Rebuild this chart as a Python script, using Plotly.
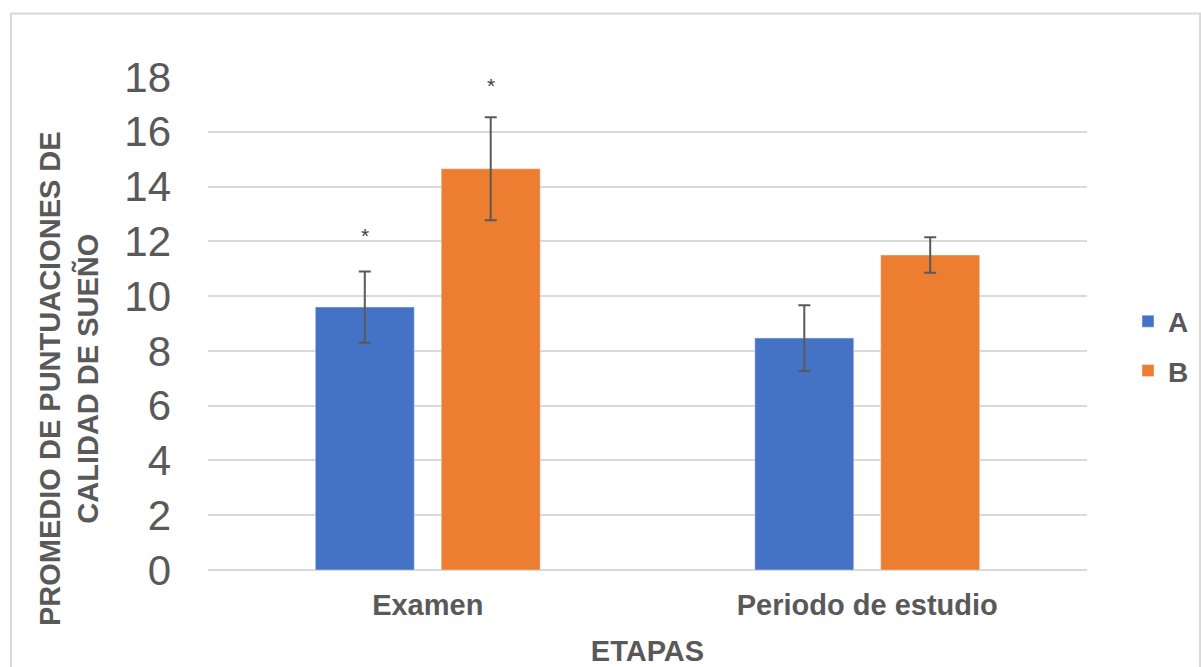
import plotly.graph_objects as go

# Data
etapas = ["Examen", "Periodo de estudio"]
grupo_a = [9.6, 8.47]
grupo_b = [14.65, 11.5]
error_a = [1.3, 1.2]
error_b = [1.88, 0.65]
# significance markers: label, series, height
sig_labels = ["*", "*"]
sig_series = ["A", "B"]
sig_heights = [12.2, 17.7]
y_ticks = [0, 2, 4, 6, 8, 10, 12, 14, 16, 18]

GRAY = "#595959"
GRID = "#d9d9d9"
FONT = "Liberation Sans, Arial, sans-serif"

W, H = 1201, 667
L, R, T, B = 208, 114, 77, 97
pw, ph = W - L - R, H - T - B

BARGAP = 0.427
GROUPGAP = 0.214

fig = go.Figure()
fig.add_trace(go.Bar(
    name="A", x=etapas, y=grupo_a, marker_color="#4472C4", legendgroup="A",
    error_y=dict(type="data", array=error_a, color=GRAY, thickness=2, width=6),
))
fig.add_trace(go.Bar(
    name="B", x=etapas, y=grupo_b, marker_color="#ED7D31", legendgroup="B",
    error_y=dict(type="data", array=error_b, color=GRAY, thickness=2, width=6),
))

# asterisks above the first category's bars
slot = (1 - BARGAP) / 2
for lab, s, hgt in zip(sig_labels, sig_series, sig_heights):
    off = -slot / 2 if s == "A" else slot / 2
    fig.add_annotation(x=0 + off, y=hgt, xref="x", yref="y", text=lab,
                       showarrow=False, font=dict(family=FONT, size=21, color="#404040"))

# y-axis title
fig.add_annotation(
    x=(69 - L) / pw, y=(570 - 379) / ph, xref="paper", yref="paper",
    xanchor="center", yanchor="middle",
    text="<b>PROMEDIO DE PUNTUACIONES DE<br>CALIDAD DE SUEÑO</b>",
    textangle=-90, showarrow=False,
    font=dict(family=FONT, size=29, color=GRAY),
)

# outer frame
fig.add_shape(type="rect", xref="paper", yref="paper",
              x0=(11 - L) / pw, x1=(1200 - L) / pw,
              y0=(570 - 700) / ph, y1=(570 - 13.5) / ph,
              line=dict(color=GRID, width=2), fillcolor="rgba(0,0,0,0)", layer="below")

fig.update_layout(
    width=W, height=H,
    margin=dict(l=L, r=R, t=T, b=B, autoexpand=False),
    paper_bgcolor="white", plot_bgcolor="white",
    barmode="group", bargap=BARGAP, bargroupgap=GROUPGAP,
    font=dict(family=FONT, color=GRAY),
    showlegend=True,
    legend=dict(x=(1128 - L) / pw, y=(570 - 346) / ph, xanchor="left", yanchor="middle",
                font=dict(family=FONT, size=28, color=GRAY, weight="bold"),
                tracegroupgap=10, itemwidth=30, bgcolor="rgba(0,0,0,0)"),
    xaxis=dict(
        showgrid=False, showline=False, ticks="",
        tickfont=dict(family=FONT, size=29, color=GRAY, weight="bold"),
        ticklabelstandoff=15,
        title=dict(text="<b>ETAPAS</b>", font=dict(family=FONT, size=29, color=GRAY), standoff=21),
    ),
    yaxis=dict(
        range=[0, 18], tickvals=y_ticks, showgrid=True, gridcolor=GRID, gridwidth=2,
        zeroline=True, zerolinecolor=GRID, zerolinewidth=2,
        showline=False, ticks="",
        tickfont=dict(family=FONT, size=42, color=GRAY),
        ticklabelstandoff=36,
    ),
)

fig.write_html("out.html")
